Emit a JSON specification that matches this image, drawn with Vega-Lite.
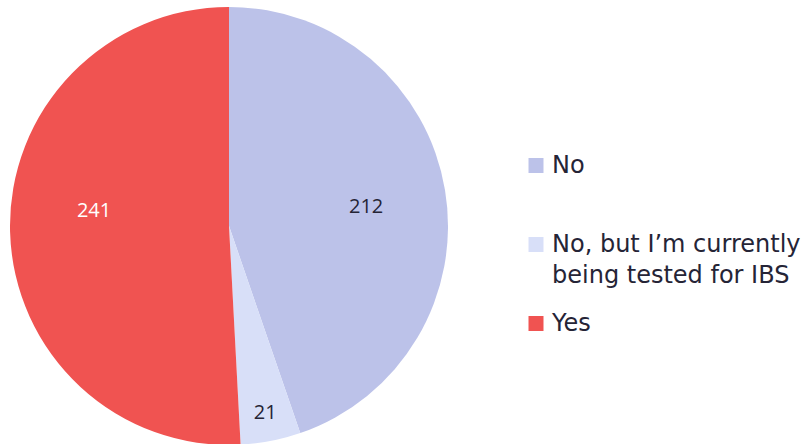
{
  "$schema": "https://vega.github.io/schema/vega-lite/v6.json",
  "width": 458,
  "height": 452,
  "padding": {"left": 0, "top": 0, "right": 348, "bottom": 0},
  "autosize": {"type": "none"},
  "background": "white",
  "config": {"style": {"guide-label": {"lineHeight": 31}}},
  "data": {"values": [
    {"answer": "No", "count": 212},
    {"answer": "No, but I’m currently being tested for IBS", "count": 21},
    {"answer": "Yes", "count": 241}
  ]},
  "encoding": {
    "theta": {"field": "count", "type": "quantitative", "stack": true},
    "order": {"field": "answer", "type": "nominal", "sort": "ascending"}
  },
  "layer": [
    {
      "mark": {"type": "arc", "outerRadius": 219},
      "encoding": {
        "color": {
          "field": "answer",
          "type": "nominal",
          "scale": {
            "domain": ["No", "No, but I’m currently being tested for IBS", "Yes"],
            "range": ["#bcc2e9", "#d8dff8", "#f05351"]
          },
          "legend": {
            "orient": "none",
            "legendX": 524,
            "legendY": 153.5,
            "title": null,
            "symbolType": "square",
            "symbolSize": 225,
            "symbolStrokeWidth": 0,
            "labelFont": "DejaVu Sans",
            "labelFontSize": 24,
            "labelColor": "#252436",
            "labelOffset": 4,
            "labelLimit": 0,
            "gridAlign": "all",
            "rowPadding": 24,
            "labelExpr": "datum.value == 'No, but I’m currently being tested for IBS' ? ['No, but I’m currently', 'being tested for IBS'] : datum.label"
          }
        }
      }
    },
    {
      "mark": {"type": "text", "radius": 137, "fontSize": 20, "font": "Open Sans", "fill": "#252436", "dx": 2, "dy": 4},
      "encoding": {
        "text": {"condition": {"test": "datum.answer == 'No'", "field": "count", "type": "quantitative"}, "value": ""}
      }
    },
    {
      "mark": {"type": "text", "radius": 137, "fontSize": 20, "font": "Open Sans", "fill": "#ffffff", "dx": 2, "dy": -19},
      "encoding": {
        "text": {"condition": {"test": "datum.answer == 'Yes'", "field": "count", "type": "quantitative"}, "value": ""}
      }
    },
    {
      "mark": {"type": "text", "radius": 190, "fontSize": 20, "font": "Open Sans", "fill": "#252436"},
      "encoding": {
        "text": {"condition": {"test": "datum.count < 100", "field": "count", "type": "quantitative"}, "value": ""}
      }
    }
  ]
}
